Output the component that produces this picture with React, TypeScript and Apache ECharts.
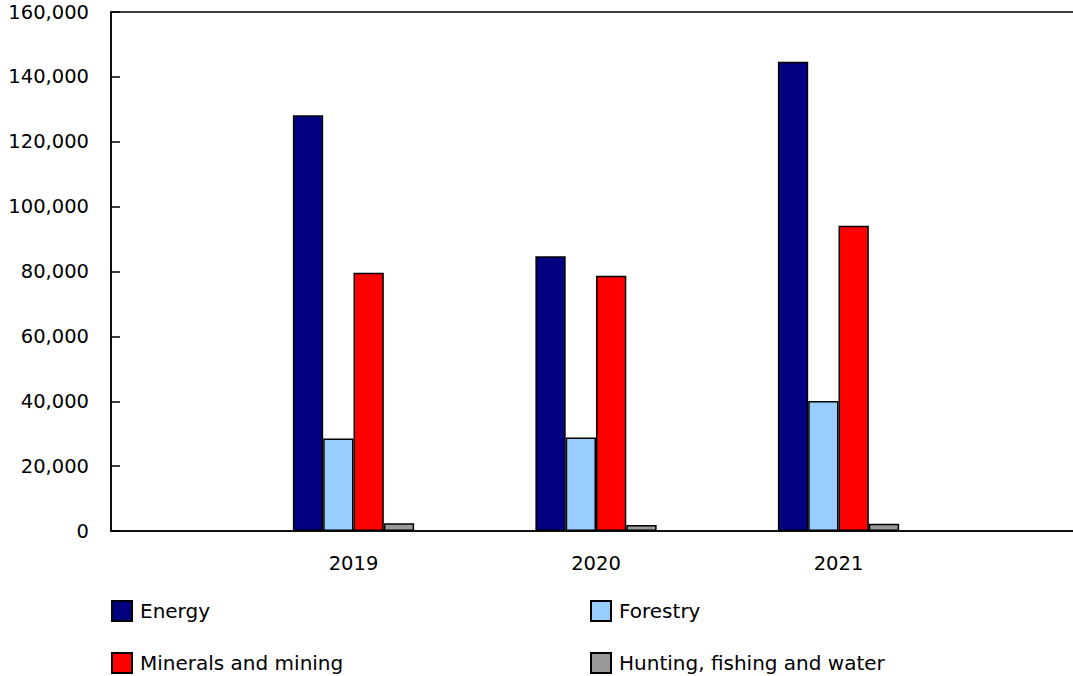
import React, { useEffect, useRef } from "react";
import * as echarts from "echarts";

const categories = ["", "2019", "2020", "2021", ""];
const energy = [128200, 84700, 144700];
const forestry = [28500, 28800, 40100];
const minerals = [79600, 78700, 94100];
const hunting = [2400, 1850, 2250];
const seriesNames = ["Energy", "Forestry", "Minerals and mining", "Hunting, fishing and water"];
const seriesColors = ["#000080", "#99CCFF", "#FF0000", "#999999"];
const yTicks = [0, 20000, 40000, 60000, 80000, 100000, 120000, 140000, 160000];

const FONT = "DejaVu Sans";
const INNER_W = 1100;

function pad(values: number[]) {
  return [null, ...values, null];
}

export default function App() {
  const ref = useRef<HTMLDivElement>(null);
  useEffect(() => {
    if (!ref.current) return;
    const chart = echarts.init(ref.current, undefined, { renderer: "svg" });
    const all = [energy, forestry, minerals, hunting];
    const legendBase = {
      orient: "vertical",
      top: 600,
      padding: 0,
      itemWidth: 20,
      itemHeight: 20,
      itemGap: 30,
      icon: "rect",
      textStyle: { fontFamily: FONT, fontSize: 20, color: "#000", padding: [0, 0, 0, 3] },
    };
    chart.setOption({
      animation: false,
      backgroundColor: "#ffffff",
      textStyle: { fontFamily: FONT },
      grid: {
        left: 111,
        right: INNER_W - 1081,
        top: 12,
        bottom: 145,
        show: true,
        borderColor: "#000",
        borderWidth: 1.5,
        backgroundColor: "transparent",
      },
      legend: [
        { ...legendBase, data: [seriesNames[0], seriesNames[2]], left: 111 },
        { ...legendBase, data: [seriesNames[1], seriesNames[3]], left: 590 },
      ],
      xAxis: {
        type: "category",
        data: categories,
        boundaryGap: false,
        axisLine: { lineStyle: { color: "#000", width: 1.5 } },
        axisTick: { show: false },
        axisLabel: { fontFamily: FONT, fontSize: 19.5, color: "#000", margin: 22, interval: 0 },
        splitLine: { show: false },
      },
      yAxis: {
        type: "value",
        min: yTicks[0],
        max: yTicks[yTicks.length - 1],
        interval: 20000,
        axisLine: { show: true, lineStyle: { color: "#000", width: 1.5 } },
        axisTick: { show: true, inside: true, length: 9, lineStyle: { color: "#000", width: 1.5 } },
        axisLabel: {
          fontFamily: FONT,
          fontSize: 19.5,
          color: "#000",
          margin: 22,
          padding: [5, 0, 0, 0],
          formatter: (v: number) => v.toLocaleString("en-US"),
        },
        splitLine: { show: false },
      },
      series: all.map((vals, i) => ({
        name: seriesNames[i],
        type: "bar",
        data: pad(vals),
        barGap: "0%",
        barCategoryGap: "50%",
        itemStyle: { color: seriesColors[i], borderColor: "#000", borderWidth: 1.5 },
      })),
    });
    return () => chart.dispose();
  }, []);
  return (
    <div
      style={{
        position: "fixed",
        left: 0,
        top: 0,
        width: 1073,
        height: 676,
        overflow: "hidden",
        background: "#fff",
      }}
    >
      <div ref={ref} style={{ width: INNER_W, height: 676 }} />
    </div>
  );
}
